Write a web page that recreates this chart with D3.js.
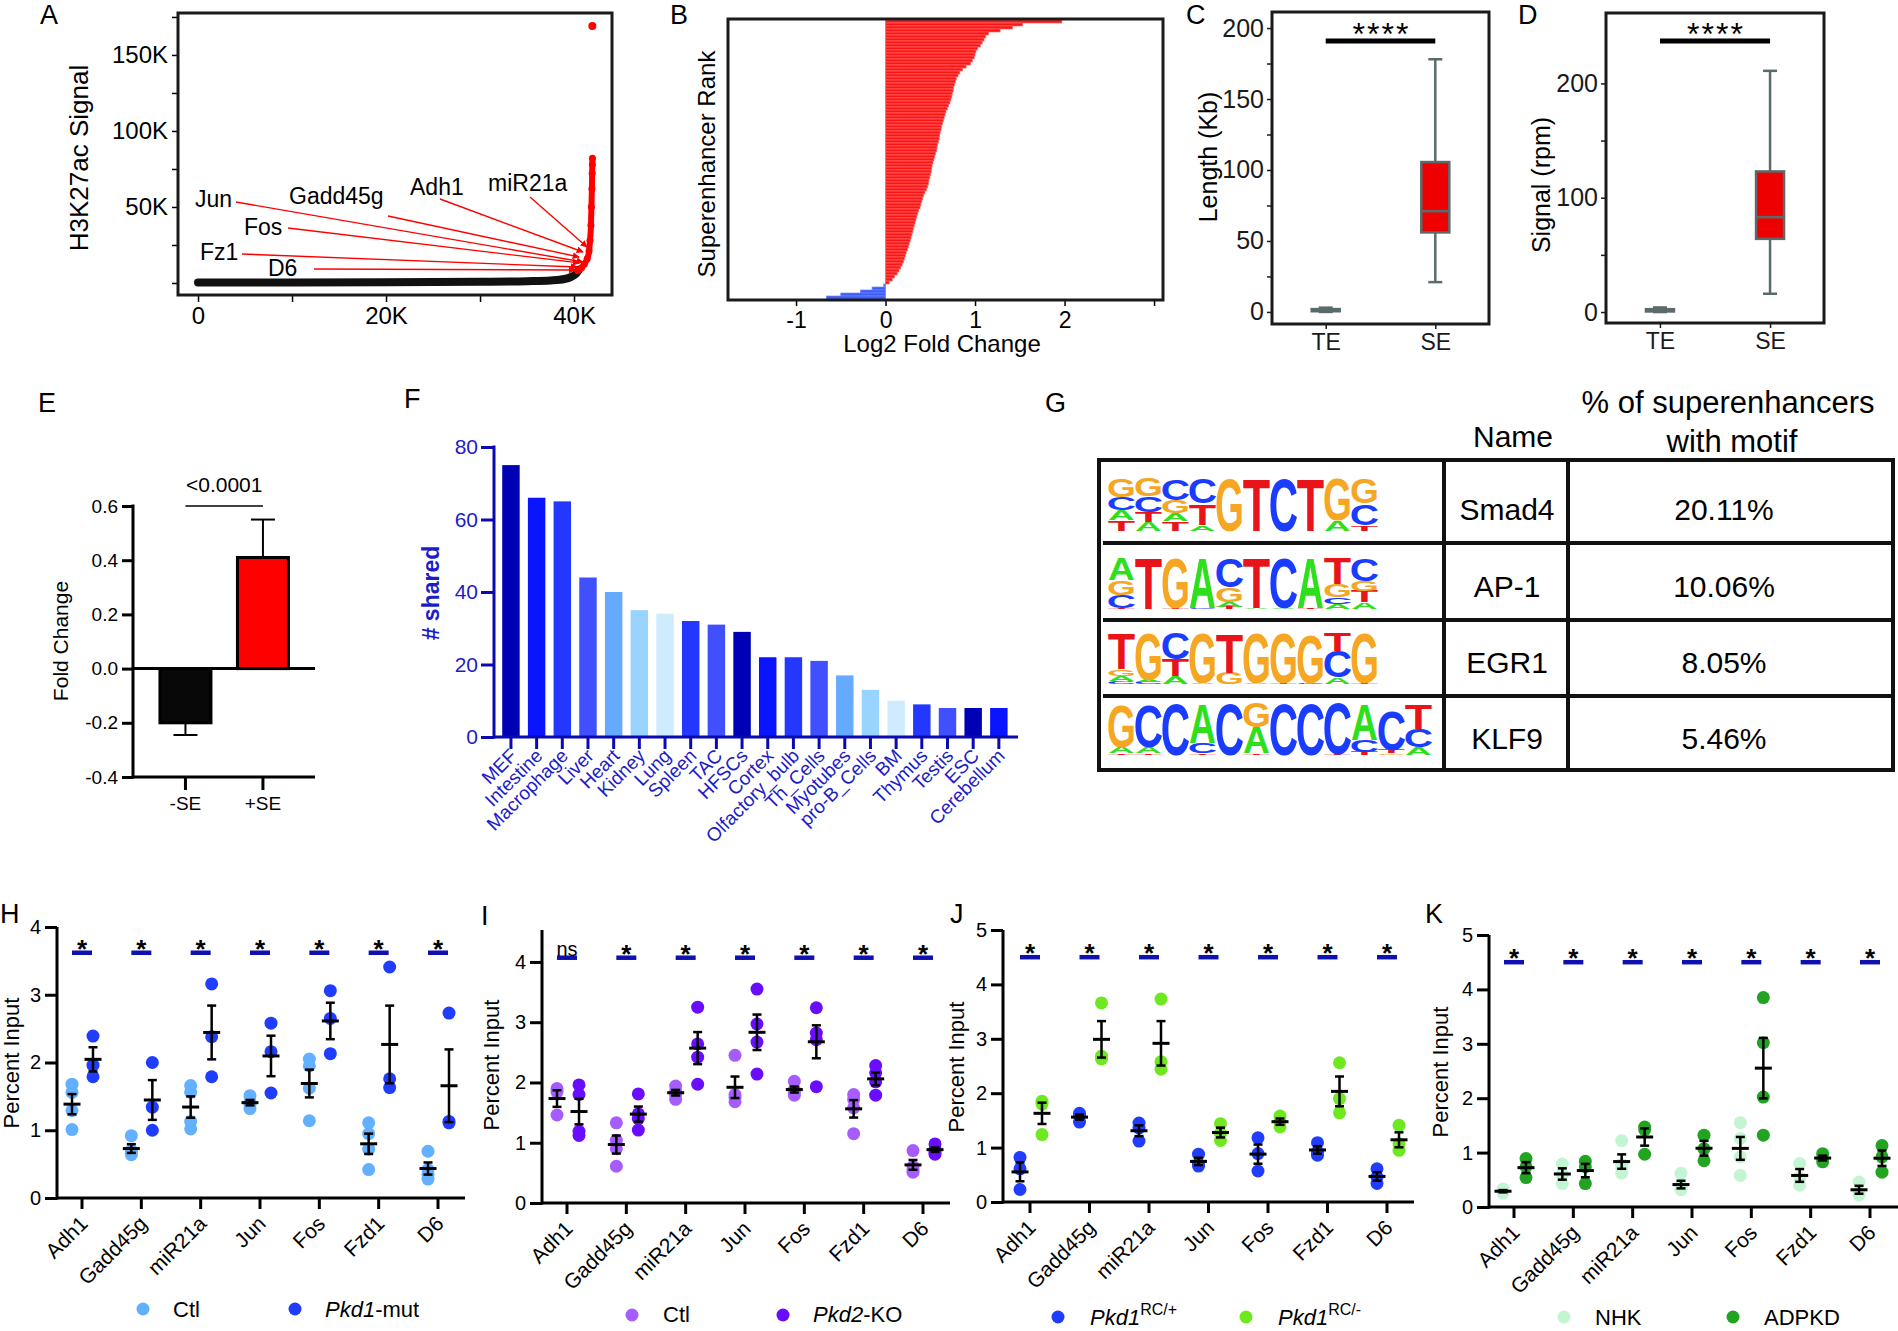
<!DOCTYPE html>
<html><head><meta charset="utf-8">
<script src="https://cdn.jsdelivr.net/npm/d3@7"></script>
<style>
html,body{margin:0;padding:0;background:#fff;}
svg{display:block;font-family:"Liberation Sans",Arial,Helvetica,sans-serif;}
</style></head><body>
<svg id="fig" width="1898" height="1331"></svg>
<script>
// ================= DATA =================
// Panel A: ranked H3K27ac signal (typical enhancers = black, super-enhancers = red)
const aRankTE   = [0, 10000, 20000, 30000, 35000, 37500, 39000, 39700, 40200, 40500];
const aSignalTE = [300, 400, 500, 800, 1200, 1700, 2600, 4000, 6000, 8500];
const aRankSE   = [40400, 40800, 41100, 41400, 41600, 41700, 41800, 41850, 41900, 41930, 41950, 41960];
const aSignalSE = [8000, 10000, 12500, 16000, 21000, 28000, 38000, 50000, 62000, 72000, 78000, 82000];
const aOutlierRank = [41950];
const aOutlierSignal = [169000];
const aGenes = ["Jun", "Gadd45g", "Adh1", "miR21a", "Fos", "Fz1", "D6"];
const aTargetRank   = [40960, 40530, 40960, 41380, 40530, 40320, 40110];
const aTargetSignal = [13800, 17100, 20400, 23700, 13200, 10500, 8550];
const aXTicks = [0, 10000, 20000, 30000, 40000];
const aYTicks = [0, 25000, 50000, 75000, 100000, 125000, 150000, 175000];

// Panel B: log2 fold change of each super-enhancer, ranked top to bottom
const bLog2FC = [1.97,1.53,1.42,1.28,1.15,1.12,1.10,1.08,1.06,1.03,
  1.01,1.00,0.99,0.97,0.95,0.90,0.86,0.83,0.81,0.79,
  0.78,0.77,0.76,0.755,0.745,0.74,0.73,0.72,0.705,0.69,
  0.675,0.665,0.655,0.645,0.635,0.625,0.62,0.61,0.605,0.60,
  0.59,0.58,0.575,0.57,0.56,0.55,0.54,0.53,0.52,0.515,
  0.51,0.50,0.495,0.485,0.48,0.47,0.455,0.44,0.425,0.415,
  0.405,0.395,0.385,0.37,0.36,0.35,0.34,0.33,0.32,0.31,
  0.305,0.295,0.285,0.275,0.265,0.255,0.245,0.23,0.22,0.21,
  0.20,0.185,0.17,0.15,0.13,0.10,0.075,0.04,
  -0.02,-0.15,-0.28,-0.50,-0.66];
const bXTicks = [-1, 0, 1, 2, 3];

// Panels C, D: box stats [min, q1, median, q3, max]
const cdGroups = ["TE", "SE"];
const cLengthTE = [0, 0.5, 1, 2, 3];
const cLengthSE = [21, 56, 71, 105.6, 178];
const dSignalTE = [0, 0.5, 1.5, 2.5, 4];
const dSignalSE = [16, 64, 83, 123, 211];
const cTicks = [0, 25, 50, 75, 100, 125, 150, 175, 200];
const cLabels = [0, 50, 100, 150, 200];
const dTicks = [0, 50, 100, 150, 200];
const dLabels = [0, 100, 200];

// Panel E
const eGroups = ["-SE", "+SE"];
const eMean = [-0.20, 0.41];
const eErr = [0.045, 0.14];
const eTicks = [-0.4, -0.2, 0, 0.2, 0.4, 0.6];

// Panel F
const fTissues = ["MEF","Intestine","Macrophage","Liver","Heart","Kidney","Lung","Spleen","TAC","HFSCs",
  "Cortex","Olfactory_bulb","Th_Cells","Myotubes","pro-B_Cells","BM","Thymus","Testis","ESC","Cerebellum"];
const fShared = [75,66,65,44,40,35,34,32,31,29,22,22,21,17,13,10,9,8,8,8];
const fTicks = [0, 20, 40, 60, 80];

// Panel G: motifs (letter stacks top->bottom, fraction of logo height)
const gNames = ["Smad4", "AP-1", "EGR1", "KLF9"];
const gPercent = ["20.11%", "10.06%", "8.05%", "5.46%"];
const gLogoSmad4 = [
  [["G",.35],["C",.25],["A",.19],["T",.21]], [["G",.34],["C",.30],["T",.19],["A",.17]],
  [["C",.41],["G",.25],["A",.16],["T",.18]], [["C",.48],["T",.41],["A",.11]],
  [["G",1]], [["T",1]], [["C",1]], [["T",1]], [["G",.80],["A",.20]], [["G",.48],["C",.41],["T",.11]]];
const gLogoAP1 = [
  [["A",.44],["G",.29],["C",.25],["T",.02]], [["T",1]], [["G",.98],["T",.02]], [["A",.98],["C",.02]],
  [["C",.57],["G",.29],["A",.10],["T",.04]], [["T",.98],["A",.02]], [["C",.98],["A",.02]], [["A",.98],["T",.02]],
  [["T",.50],["G",.25],["C",.13],["A",.10]], [["C",.44],["G",.19],["T",.22],["A",.13]]];
const gLogoEGR1 = [
  [["T",.70],["G",.13],["A",.10],["C",.06]], [["G",.92],["A",.04],["C",.04]], [["C",.51],["T",.32],["A",.16]],
  [["G",.98],["A",.02]], [["T",.76],["G",.22]], [["G",.98],["A",.02]], [["G",.98],["T",.02]],
  [["G",.96],["C",.02]], [["T",.35],["C",.51],["A",.13]], [["G",.98],["T",.02]]];
const gLogoKLF9 = [
  [["G",.81],["A",.13],["T",.03]], [["C",.81],["A",.13],["T",.03]], [["C",.97]], [["A",.75],["C",.19],["T",.03]],
  [["C",.97]], [["G",.47],["A",.50],["T",.03]], [["C",.97]], [["C",.97]], [["C",.97],["T",.02]],
  [["A",.69],["C",.22],["T",.06]], [["C",.75],["T",.06],["G",.03]], [["T",.47],["C",.34],["A",.16]]];

// Panels H-K: ChIP-qPCR percent input
const qGenes = ["Adh1","Gadd45g","miR21a","Jun","Fos","Fzd1","D6"];
const hCtl = [[1.68,1.56,1.29,1.01],[0.92,0.70,0.66,0.64],[1.66,1.56,1.13,1.02],[1.51,1.42,1.38,1.32],[2.05,1.95,1.62,1.14],[1.11,0.95,0.72,0.42],[0.69,0.42,0.35,0.28]];
const hMut = [[2.39,1.96,1.79],[2.0,1.34,1.0],[3.16,2.38,1.79],[2.58,2.16,1.55],[3.06,2.65,2.13],[3.41,1.76,1.63],[2.73,1.13,1.11]];
const hSig = ["*","*","*","*","*","*","*"];
const iCtl = [[1.90,1.84,1.46],[1.33,1.04,0.90,0.61],[1.94,1.86,1.80,1.72],[2.45,1.80,1.75,1.68],[2.02,1.88,1.84,1.79],[1.80,1.72,1.58,1.15],[0.87,0.60,0.55,0.51]];
const iKO  = [[1.96,1.80,1.19,1.12],[1.81,1.48,1.40,1.21],[3.25,2.64,2.42,1.97],[3.55,2.97,2.67,2.14],[3.24,2.82,2.71,1.93],[2.28,2.16,2.01,1.79],[0.98,0.90,0.85,0.81]];
const iSig = ["ns","*","*","*","*","*","*"];
const jHet  = [[0.82,0.61,0.23],[1.63,1.58,1.47],[1.45,1.36,1.12],[0.88,0.70,0.66],[1.18,0.89,0.57],[1.09,0.92,0.86],[0.61,0.46,0.34]];
const jNull = [[1.85,1.80,1.24],[3.66,2.68,2.63],[3.73,2.58,2.44],[1.44,1.26,1.13],[1.58,1.47,1.38],[2.56,1.90,1.64],[1.41,1.07,0.95]];
const jSig = ["*","*","*","*","*","*","*"];
const kNHK   = [[0.33,0.28,0.26],[0.79,0.60,0.43],[1.22,0.78,0.72,0.62],[0.62,0.38,0.33,0.32],[1.55,1.26,0.92,0.58],[0.80,0.54,0.40],[0.46,0.27,0.22]];
const kADPKD = [[0.89,0.74,0.54],[0.84,0.74,0.43],[1.47,1.42,0.97],[1.32,1.07,0.85],[3.85,3.02,2.02,1.32],[0.98,0.89,0.83],[1.13,0.92,0.64]];
const kSig = ["*","*","*","*","*","*","*"];

// ================= STYLE =================
const FONT = '"Liberation Sans", Arial, Helvetica, sans-serif';
const fColors = ["#0000b4","#0a14ff","#2437ff","#4150ff","#66aaff","#99d3ff","#cfecff","#2437ff","#4150ff","#0000b4",
  "#0a14ff","#2437ff","#4150ff","#66aaff","#99d3ff","#cfecff","#2437ff","#4150ff","#0000b4","#0a14ff"];
const nucColor = {A:"#2ee01c", C:"#1a3cff", G:"#f5a623", T:"#e8141a"};
const nucInk = {A:0.70, C:0.64, G:0.70, T:0.58};

const svg = d3.select("#fig");
svg.append("rect").attr("width",1898).attr("height",1331).attr("fill","#fff");
const defs = svg.append("defs");
defs.append("marker").attr("id","arrR").attr("viewBox","0 0 10 10").attr("refX",9).attr("refY",5)
  .attr("markerWidth",5).attr("markerHeight",5).attr("orient","auto")
  .append("path").attr("d","M0,0L10,5L0,10z").attr("fill","#f00");

function T(g, x, y, s, o = {}) {
  const t = g.append("text").attr("x", x).attr("y", y)
    .attr("font-size", o.size || 20).attr("text-anchor", o.anchor || "start")
    .attr("fill", o.fill || "#000").attr("font-family", FONT);
  if (s !== null) t.text(s);
  if (o.weight) t.attr("font-weight", o.weight);
  if (o.style) t.attr("font-style", o.style);
  if (o.ls) t.attr("letter-spacing", o.ls);
  if (o.rotate != null) t.attr("transform", `rotate(${o.rotate},${x},${y})`);
  return t;
}
function styleAxis(a, size, color = "#000", sw = 1.5) {
  a.attr("font-family", FONT).attr("font-size", size);
  a.selectAll(".tick text").attr("fill", color);
  a.selectAll(".tick line").attr("stroke", color).attr("stroke-width", sw);
  a.select(".domain").remove();
}
function L(g, x1, y1, x2, y2, c = "#000", w = 3) {
  return g.append("line").attr("x1",x1).attr("y1",y1).attr("x2",x2).attr("y2",y2)
    .attr("stroke", c).attr("stroke-width", w);
}

// panel letters (layout)
[["A",40,24],["B",670,24],["C",1186,24],["D",1518,24],["E",38,412],["F",404,408],["G",1045,412],
 ["H",0,923],["I",481,925],["J",950,923],["K",1425,923]].forEach(p => T(svg, p[1], p[2], p[0], {size: 27}));

// ================= PANEL A =================
{
  const g = svg.append("g");
  const x = d3.scaleLinear().domain([-2130, 44040]).range([178, 612]);
  const y = d3.scaleLinear().domain([-7900, 177600]).range([295, 13]);
  g.append("g").attr("transform","translate(0,295)")
    .call(d3.axisBottom(x).tickValues(aXTicks).tickSize(7).tickPadding(5)
      .tickFormat(d => d % 20000 === 0 ? (d === 0 ? "0" : d/1000 + "K") : ""))
    .call(a => styleAxis(a, 24, "#000", 1.5));
  g.append("g").attr("transform","translate(178,0)")
    .call(d3.axisLeft(y).tickValues(aYTicks).tickSize(6).tickPadding(4)
      .tickFormat(d => (d % 50000 === 0 && d > 0) ? d/1000 + "K" : ""))
    .call(a => styleAxis(a, 24, "#000", 1.5));
  const line = d3.line().x(d => x(d[0])).y(d => y(d[1])).curve(d3.curveMonotoneX);
  g.append("path").datum(d3.zip(aRankTE, aSignalTE)).attr("d", line).attr("fill","none")
    .attr("stroke","#111").attr("stroke-width",8).attr("stroke-linecap","round");
  g.append("path").datum(d3.zip(aRankSE, aSignalSE)).attr("d", line).attr("fill","none")
    .attr("stroke","#f00").attr("stroke-width",6).attr("stroke-linecap","round");
  g.selectAll("circle.se").data(d3.zip(aRankSE, aSignalSE)).join("circle")
    .attr("cx", d => x(d[0])).attr("cy", d => y(d[1])).attr("r", 3.5).attr("fill","#f00");
  g.selectAll("circle.out").data(d3.zip(aOutlierRank, aOutlierSignal)).join("circle")
    .attr("cx", d => x(d[0])).attr("cy", d => y(d[1])).attr("r", 4).attr("fill","#f00");
  // annotation layout: [textX, textBaseline, lineStartX, lineStartY]
  const lay = [[195,207,236,202],[289,204,388,216],[410,195,440,199],[488,191,530,197],[244,235,288,228],[200,260,242,254],[268,276,314,269]];
  aGenes.forEach((nm, i) => {
    const p = lay[i];
    T(g, p[0], p[1], nm, {size: 23});
    L(g, p[2], p[3], x(aTargetRank[i]), y(aTargetSignal[i]), "#f00", 1.4).attr("marker-end","url(#arrR)");
  });
  g.append("rect").attr("x",178).attr("y",13).attr("width",434).attr("height",282)
    .attr("fill","none").attr("stroke","#1a1a1a").attr("stroke-width",3);
  T(g, 88, 158, "H3K27ac Signal", {size: 26, anchor: "middle", rotate: -90});
}

// ================= PANEL B =================
{
  const g = svg.append("g");
  const x = d3.scaleLinear().domain([-1.76, 3.1]).range([728, 1163]);
  const y = d3.scaleBand().domain(d3.range(bLog2FC.length)).range([20, 299]).padding(0);
  g.selectAll("rect.bar").data(bLog2FC).join("rect")
    .attr("x", d => x(Math.min(0, d))).attr("y", (d, i) => y(i))
    .attr("width", d => Math.abs(x(d) - x(0))).attr("height", y.bandwidth())
    .attr("fill", d => d >= 0 ? "#ff1414" : "#3d5cff")
    .attr("stroke", d => d >= 0 ? "#ff6a6a" : "#6f88ff").attr("stroke-width", 0.7);
  g.append("g").attr("transform","translate(0,300)")
    .call(d3.axisBottom(x).tickValues(bXTicks).tickSize(6).tickPadding(6)
      .tickFormat(d => d === 3 ? "" : String(d)))
    .call(a => styleAxis(a, 23, "#000", 1.5));
  g.append("rect").attr("x",728).attr("y",19).attr("width",435).attr("height",281)
    .attr("fill","none").attr("stroke","#1a1a1a").attr("stroke-width",3);
  T(g, 942, 352, "Log2 Fold Change", {size: 24, anchor: "middle"});
  T(g, 715, 164, "Superenhancer Rank", {size: 24, anchor: "middle", rotate: -90});
}

// ================= PANELS C, D =================
function boxPanel(o) {
  const g = svg.append("g");
  const y = d3.scaleLinear().domain(o.ydom).range([o.bottom, o.top]);
  const x = d3.scalePoint().domain(cdGroups).range([o.left, o.right]).padding(0.49);
  g.append("g").attr("transform",`translate(${o.left},0)`)
    .call(d3.axisLeft(y).tickValues(o.ticks).tickSize(5).tickPadding(3)
      .tickFormat(d => o.labels.includes(d) ? String(d) : ""))
    .call(a => styleAxis(a, 25, "#1a1a1a", 1.5));
  g.append("g").attr("transform",`translate(0,${o.bottom})`)
    .call(d3.axisBottom(x).tickSize(5).tickPadding(5))
    .call(a => styleAxis(a, 23, "#1a1a1a", 1.5));
  const col = "#5b6b6b";
  o.stats.forEach((s, i) => {
    const cx = x(cdGroups[i]);
    const [mn, q1, md, q3, mx] = s;
    L(g, cx, y(mx), cx, y(q3), col, 2.5);
    L(g, cx, y(q1), cx, y(mn), col, 2.5);
    L(g, cx - 7, y(mx), cx + 7, y(mx), col, 2.5);
    L(g, cx - 7, y(mn), cx + 7, y(mn), col, 2.5);
    g.append("rect").attr("x", cx - 14).attr("y", y(q3)).attr("width", 28)
      .attr("height", Math.max(1, y(q1) - y(q3))).attr("fill", "#ee0000")
      .attr("stroke", col).attr("stroke-width", 2.5);
    L(g, cx - 14, y(md), cx + 14, y(md), col, 2.5);
  });
  g.append("rect").attr("x", x("TE")).attr("y", o.sigY - 2.5).attr("width", x("SE") - x("TE"))
    .attr("height", 5).attr("fill", "#000");
  T(g, (x("TE") + x("SE")) / 2 + 1, o.sigY + 4, "****", {size: 32, anchor: "middle", ls: 2});
  g.append("rect").attr("x", o.left).attr("y", o.top).attr("width", o.right - o.left)
    .attr("height", o.bottom - o.top).attr("fill","none").attr("stroke","#1a1a1a").attr("stroke-width",3);
  T(g, o.titleX, o.titleY, o.title, {size: 25, anchor: "middle", rotate: -90});
}
boxPanel({left:1272, right:1489, top:12, bottom:324, ydom:[-8.5, 211.3], ticks:cTicks, labels:cLabels,
  stats:[cLengthTE, cLengthSE], sigY:41, title:"Length (Kb)", titleX:1217, titleY:157});
boxPanel({left:1606, right:1824, top:13, bottom:323, ydom:[-9.6, 261.6], ticks:dTicks, labels:dLabels,
  stats:[dSignalTE, dSignalSE], sigY:41, title:"Signal (rpm)", titleX:1550, titleY:185});

// ================= PANEL E =================
{
  const g = svg.append("g");
  const y = d3.scaleLinear().domain([-0.4, 0.6]).range([777, 506]);
  const x = d3.scaleBand().domain(eGroups).range([133, 315.4]).paddingInner(0.342).paddingOuter(0.348);
  g.append("g").attr("transform","translate(133,0)")
    .call(d3.axisLeft(y).tickValues(eTicks).tickSize(11).tickPadding(4).tickFormat(d => d.toFixed(1)))
    .call(a => styleAxis(a, 19, "#000", 3));
  const eFill = ["#080808", "#ff0000"];
  eMean.forEach((m, i) => {
    const bx = x(eGroups[i]), bw = x.bandwidth(), cx = bx + bw / 2;
    const ye = y(m + Math.sign(m) * eErr[i]);
    L(g, cx, y(m), cx, ye, "#000", 2);
    L(g, cx - 12, ye, cx + 12, ye, "#000", 2);
    g.append("rect").attr("x", bx).attr("y", y(Math.max(0, m))).attr("width", bw)
      .attr("height", Math.abs(y(m) - y(0))).attr("fill", eFill[i]).attr("stroke", "#000").attr("stroke-width", 3);
    L(g, cx, 777, cx, 790, "#000", 3);
    T(g, cx, 810, eGroups[i], {size: 19, anchor: "middle"});
  });
  L(g, 133, 504.5, 133, 778.5, "#000", 3);
  L(g, 133, 777, 315, 777, "#000", 3);
  L(g, 133, y(0), 315, y(0), "#000", 3);
  L(g, x.bandwidth()/2 + x("-SE"), y(0.6), x.bandwidth()/2 + x("+SE"), y(0.6), "#000", 1.6);
  T(g, (x("-SE") + x("+SE")) / 2 + x.bandwidth()/2, 492, "<0.0001", {size: 21, anchor: "middle"});
  T(g, 68, 641, "Fold Change", {size: 21, anchor: "middle", rotate: -90});
}

// ================= PANEL F =================
{
  const g = svg.append("g");
  const axc = "#0a0ab0", txc = "#1c1cc8";
  const y = d3.scaleLinear().domain([0, 80]).range([737, 447]);
  const x = d3.scaleBand().domain(fTissues).range([494, 1015.8]).paddingInner(0.32).paddingOuter(0.32);
  g.selectAll("rect.fb").data(fShared).join("rect")
    .attr("x", (d, i) => x(fTissues[i])).attr("y", d => y(d)).attr("width", x.bandwidth())
    .attr("height", d => y(0) - y(d)).attr("fill", (d, i) => fColors[i]);
  g.append("g").attr("transform","translate(494,0)")
    .call(d3.axisLeft(y).tickValues(fTicks).tickSize(13).tickPadding(3))
    .call(a => styleAxis(a, 21, axc, 3))
    .call(a => a.selectAll(".tick text").attr("fill", txc));
  L(g, 494, 445.5, 494, 738.5, axc, 3);
  L(g, 494, 737, 1018, 737, axc, 3);
  fTissues.forEach(t => {
    const cx = x(t) + x.bandwidth() / 2;
    L(g, cx, 737, cx, 749, axc, 3);
    T(g, cx + 7, 757, t, {size: 19, anchor: "end", rotate: -45, fill: txc});
  });
  T(g, 439, 593, "# shared", {size: 23, anchor: "middle", rotate: -90, weight: "bold", fill: txc});
}

// ================= PANEL G =================
{
  const g = svg.append("g");
  T(g, 1513, 447, "Name", {size: 30, anchor: "middle"});
  T(g, 1728, 413, "% of superenhancers", {size: 31, anchor: "middle"});
  T(g, 1732, 452, "with motif", {size: 31, anchor: "middle"});
  const logos = [gLogoSmad4, gLogoAP1, gLogoEGR1, gLogoKLF9];
  const logoTop = [478, 557, 632, 702], logoBot = [531, 609, 684, 755];
  const colW = 27, lx0 = 1108;
  logos.forEach((logo, r) => {
    const Hh = logoBot[r] - logoTop[r];
    logo.forEach((stack, k) => {
      const xc = lx0 + colW * k + colW / 2;
      let cum = 0;
      stack.slice().reverse().forEach(([ch, f]) => {
        const h = f * Hh;
        if (h < 0.3) { cum += f; return; }
        const yb = logoBot[r] - cum * Hh;
        const sx = (colW - 1) / (nucInk[ch] * 100), sy = h / 72;
        g.append("text").attr("transform", `translate(${xc},${yb}) scale(${sx},${sy})`)
          .attr("text-anchor","middle").attr("font-size",100).attr("font-weight","bold")
          .attr("font-family", FONT).attr("fill", nucColor[ch]).text(ch);
        cum += f;
      });
    });
    const base = [520, 597, 673, 749][r];
    T(g, 1507, base, gNames[r], {size: 30, anchor: "middle"});
    T(g, 1724, base, gPercent[r], {size: 30, anchor: "middle"});
  });
  const lc = "#111";
  g.append("rect").attr("x",1099).attr("y",460).attr("width",794).attr("height",310)
    .attr("fill","none").attr("stroke",lc).attr("stroke-width",4);
  L(g, 1444, 460, 1444, 770, lc, 4);
  L(g, 1568, 460, 1568, 770, lc, 4);
  [543, 620, 696].forEach(yy => L(g, 1103, yy, 1893, yy, lc, 4));
}

// ================= PANELS H-K =================
function mean(a) { return d3.mean(a); }
function sem(a) { return d3.deviation(a) / Math.sqrt(a.length); }
function dotPanel(o) {
  const g = svg.append("g");
  const y = d3.scaleLinear().domain([0, o.ymax]).range([o.y0, o.yTop]);
  const x = d3.scalePoint().domain(qGenes).range([o.x0, o.x1]);
  g.append("g").attr("transform",`translate(${o.ax},0)`)
    .call(d3.axisLeft(y).tickValues(o.ticks).tickSize(12).tickPadding(4).tickFormat(d => String(d)))
    .call(a => styleAxis(a, 20, "#000", 3));
  L(g, o.ax, o.y0 + 1.5, o.ax, o.yTop, "#000", 3);
  L(g, o.ax, o.y0, o.xEnd, o.y0, "#000", 3);
  qGenes.forEach(gn => {
    L(g, x(gn), o.y0, x(gn), o.y0 + 11, "#000", 3);
    T(g, x(gn) + 7, o.y0 + 27, gn, {size: 21, anchor: "end", rotate: -45});
  });
  const series = [o.a, o.b];
  series.forEach((ser, si) => {
    ser.forEach((vals, gi) => {
      const cx = x(qGenes[gi]) + o.off[si];
      vals.forEach(v => g.append("circle").attr("cx", cx).attr("cy", y(v)).attr("r", 6.5).attr("fill", o.colors[si]));
    });
  });
  series.forEach((ser, si) => {
    ser.forEach((vals, gi) => {
      const cx = x(qGenes[gi]) + o.off[si];
      const m = mean(vals), s = sem(vals);
      L(g, cx - 8.5, y(m), cx + 8.5, y(m), "#000", 3);
      L(g, cx, y(m - s), cx, y(m + s), "#000", 2.5);
      L(g, cx - 4.5, y(m - s), cx + 4.5, y(m - s), "#000", 2.5);
      L(g, cx - 4.5, y(m + s), cx + 4.5, y(m + s), "#000", 2.5);
    });
  });
  o.sig.forEach((s, gi) => {
    const cx = x(qGenes[gi]), sy = y(o.sigVal);
    L(g, cx - 10, sy, cx + 10, sy, "#1010b0", 4.5);
    if (s === "ns") T(g, cx, sy - 2, "ns", {size: 20, anchor: "middle"});
    else T(g, cx, sy + 5, s, {size: 26, anchor: "middle", weight: "bold"});
  });
  o.legend.forEach((lg, li) => {
    g.append("circle").attr("cx", lg.cx).attr("cy", lg.cy).attr("r", 6.5).attr("fill", o.colors[li]);
    const t = T(g, lg.tx, lg.ty, null, {size: 22});
    lg.parts.forEach(p => {
      const ts = t.append("tspan").text(p[0]);
      if (p[1] === "i") ts.attr("font-style", "italic");
      if (p[1] === "sup") ts.attr("font-size", 16).attr("dy", -10);
    });
  });
  T(g, o.titleX, o.titleY, "Percent Input", {size: 22, anchor: "middle", rotate: -90});
}
dotPanel({ax:57, y0:1198, yTop:927, ymax:4, ticks:[0,1,2,3,4], x0:82, x1:438, xEnd:465, off:[-10,11],
  a:hCtl, b:hMut, colors:["#62b0ff","#1f3cff"], sig:hSig, sigVal:3.62, titleX:19, titleY:1063,
  legend:[{cx:143,cy:1309,tx:173,ty:1317,parts:[["Ctl",""]]},{cx:295,cy:1309,tx:325,ty:1317,parts:[["Pkd1","i"],["-mut",""]]}]});
dotPanel({ax:542, y0:1203, yTop:930, ymax:4.53, ticks:[0,1,2,3,4], x0:567, x1:923, xEnd:950, off:[-10,12],
  a:iCtl, b:iKO, colors:["#a65cff","#6a0dff"], sig:iSig, sigVal:4.07, titleX:499, titleY:1065,
  legend:[{cx:632,cy:1315,tx:663,ty:1322,parts:[["Ctl",""]]},{cx:783,cy:1315,tx:813,ty:1322,parts:[["Pkd2","i"],["-KO",""]]}]});
dotPanel({ax:1003, y0:1202, yTop:930, ymax:5, ticks:[0,1,2,3,4,5], x0:1030, x1:1387, xEnd:1414, off:[-10,12],
  a:jHet, b:jNull, colors:["#1f3cff","#6ee81f"], sig:jSig, sigVal:4.5, titleX:964, titleY:1067,
  legend:[{cx:1058,cy:1317,tx:1090,ty:1325,parts:[["Pkd1","i"],["RC/+","sup"]]},{cx:1246,cy:1317,tx:1278,ty:1325,parts:[["Pkd1","i"],["RC/-","sup"]]}]});
dotPanel({ax:1489, y0:1207, yTop:935, ymax:5, ticks:[0,1,2,3,4,5], x0:1514, x1:1870, xEnd:1898, off:[-11,12],
  a:kNHK, b:kADPKD, colors:["#c3f5d3","#22a322"], sig:kSig, sigVal:4.5, titleX:1448, titleY:1072,
  legend:[{cx:1564,cy:1317,tx:1595,ty:1325,parts:[["NHK",""]]},{cx:1733,cy:1317,tx:1764,ty:1325,parts:[["ADPKD",""]]}]});
</script>
</body></html>
